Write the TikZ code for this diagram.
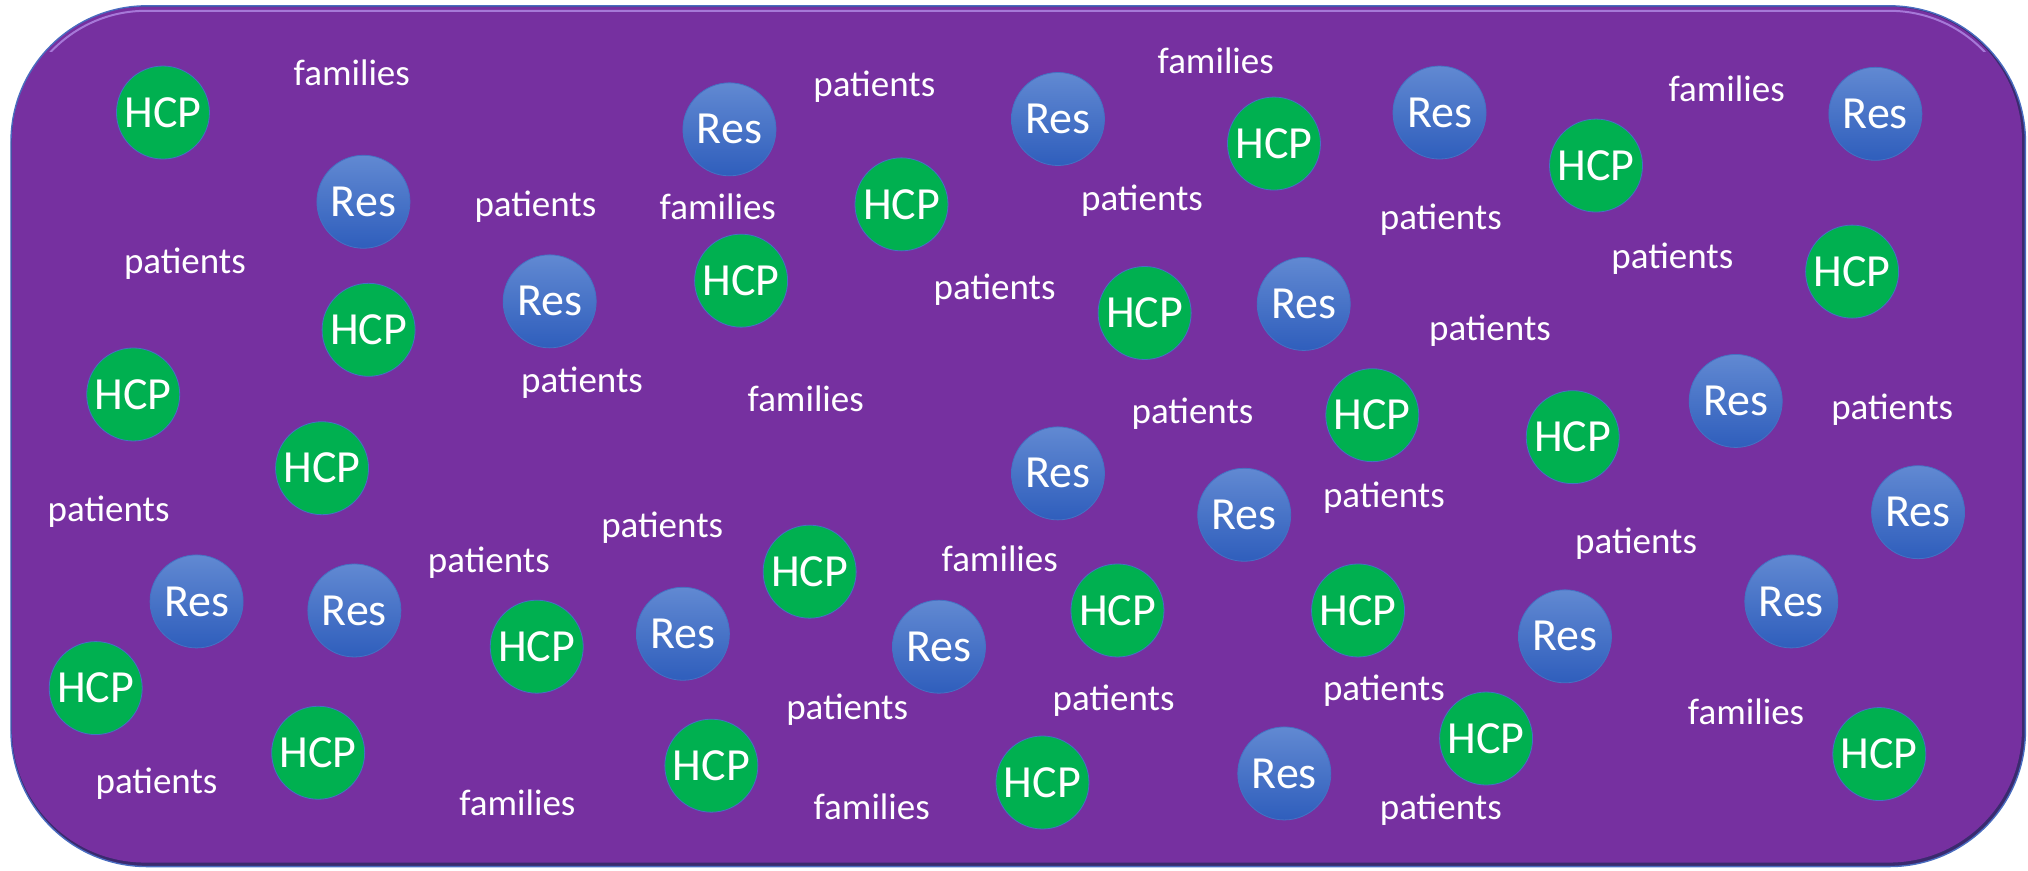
\documentclass[tikz,border=0pt]{standalone}
\usepackage{fontspec}
\setmainfont{Carlito}
\definecolor{bgpurple}{HTML}{7630A0}
\definecolor{edgedark}{HTML}{3A2A6E}
\definecolor{edgeblue}{HTML}{4A6CC0}
\definecolor{hilite}{HTML}{B38AE6}
\definecolor{hcpgreen}{HTML}{00B050}
\definecolor{cedge}{HTML}{4472C4}
\definecolor{restop}{HTML}{6189D2}
\definecolor{resbot}{HTML}{2F5EBC}
\tikzset{
  hcp/.style={circle, fill=hcpgreen, draw=cedge, line width=0.8pt, minimum size=93pt, inner sep=0pt, text=white, font=\fontsize{46}{46}\selectfont},
  res/.style={circle, top color=restop, bottom color=resbot, draw=cedge, line width=0.8pt, minimum size=93pt, inner sep=0pt, text=white, font=\fontsize{46}{46}\selectfont},
  lbl/.style={text=white, inner sep=0pt, font=\fontsize{37}{40}\selectfont},
}
\begin{document}
\begin{tikzpicture}[x=1.2934pt, y=-1.2934pt]
\useasboundingbox (0,0) rectangle (1568,673);
% frame
\coordinate (fa) at (8.5,4.5);
\coordinate (fb) at (1566,670);
\fill[edgedark, rounded corners=136pt] (fa) rectangle (fb);
\fill[bgpurple, rounded corners=133pt] ([xshift=1pt,yshift=-1pt]fa) rectangle ([xshift=-3.5pt,yshift=4pt]fb);
\draw[edgeblue, line width=1.4pt, rounded corners=136pt] (fa) rectangle (fb);
\begin{scope}
\clip (0,0) rectangle (1568,40);
\draw[hilite, line width=2pt, opacity=0.8, rounded corners=131pt] ([xshift=4pt,yshift=-5pt]fa) rectangle ([xshift=-5pt,yshift=5pt]fb);
\end{scope}
% HCP circles
\node[hcp] (h1) at (126,87) {HCP};
\node[hcp] (h2) at (285,255) {HCP};
\node[hcp] (h3) at (103,305) {HCP};
\node[hcp] (h4) at (249,362) {HCP};
\node[hcp] (h5) at (573,217) {HCP};
\node[hcp] (h6) at (697,158) {HCP};
\node[hcp] (h7) at (985,111) {HCP};
\node[hcp] (h8) at (1234,128) {HCP};
\node[hcp] (h9) at (885,242) {HCP};
\node[hcp] (h10) at (1432,210) {HCP};
\node[hcp] (h11) at (1061,321) {HCP};
\node[hcp] (h12) at (1216,338) {HCP};
\node[hcp] (h13) at (626,442) {HCP};
\node[hcp] (h14) at (415,500) {HCP};
\node[hcp] (h15) at (74,532) {HCP};
\node[hcp] (h16) at (246,582) {HCP};
\node[hcp] (h17) at (550,592) {HCP};
\node[hcp] (h18) at (806,605) {HCP};
\node[hcp] (h19) at (864,472) {HCP};
\node[hcp] (h20) at (1050,472) {HCP};
\node[hcp] (h21) at (1149,571) {HCP};
\node[hcp] (h22) at (1453,583) {HCP};
% Res circles
\node[res] (r1) at (281,156) {Res};
\node[res] (r2) at (564,100) {Res};
\node[res] (r3) at (818,92) {Res};
\node[res] (r4) at (1113,87) {Res};
\node[res] (r5) at (1450,88) {Res};
\node[res] (r6) at (425,233) {Res};
\node[res] (r7) at (1008,235) {Res};
\node[res] (r8) at (1342,310) {Res};
\node[res] (r9) at (818,366) {Res};
\node[res] (r10) at (962,398) {Res};
\node[res] (r11) at (1483,396) {Res};
\node[res] (r12) at (152,465) {Res};
\node[res] (r13) at (274,472) {Res};
\node[res] (r14) at (528,490) {Res};
\node[res] (r15) at (726,500) {Res};
\node[res] (r16) at (1210,492) {Res};
\node[res] (r17) at (1385,465) {Res};
\node[res] (r18) at (993,598) {Res};
% families
\node[lbl] (f1) at (272,56) {families};
\node[lbl] (f2) at (940,47) {families};
\node[lbl] (f3) at (1335,69) {families};
\node[lbl] (f4) at (555,160) {families};
\node[lbl] (f5) at (623,308) {families};
\node[lbl] (f6) at (773,432) {families};
\node[lbl] (f7) at (400,621) {families};
\node[lbl] (f8) at (674,624) {families};
\node[lbl] (f9) at (1350,550) {families};
% patients
\node[lbl] (p1) at (676,67) {patients};
\node[lbl] (p2) at (143,204) {patients};
\node[lbl] (p3) at (414,160) {patients};
\node[lbl] (p4) at (883,155) {patients};
\node[lbl] (p5) at (1114,170) {patients};
\node[lbl] (p6) at (1293,200) {patients};
\node[lbl] (p7) at (769,224) {patients};
\node[lbl] (p8) at (1152,256) {patients};
\node[lbl] (p9) at (450,296) {patients};
\node[lbl] (p10) at (922,320) {patients};
\node[lbl] (p11) at (1463,317) {patients};
\node[lbl] (p12) at (84,396) {patients};
\node[lbl] (p13) at (1070,385) {patients};
\node[lbl] (p14) at (512,408) {patients};
\node[lbl] (p15) at (378,435) {patients};
\node[lbl] (p16) at (1265,420) {patients};
\node[lbl] (p17) at (655,549) {patients};
\node[lbl] (p18) at (861,542) {patients};
\node[lbl] (p19) at (1070,534) {patients};
\node[lbl] (p20) at (121,606) {patients};
\node[lbl] (p21) at (1114,626) {patients};
\end{tikzpicture}
\end{document}
